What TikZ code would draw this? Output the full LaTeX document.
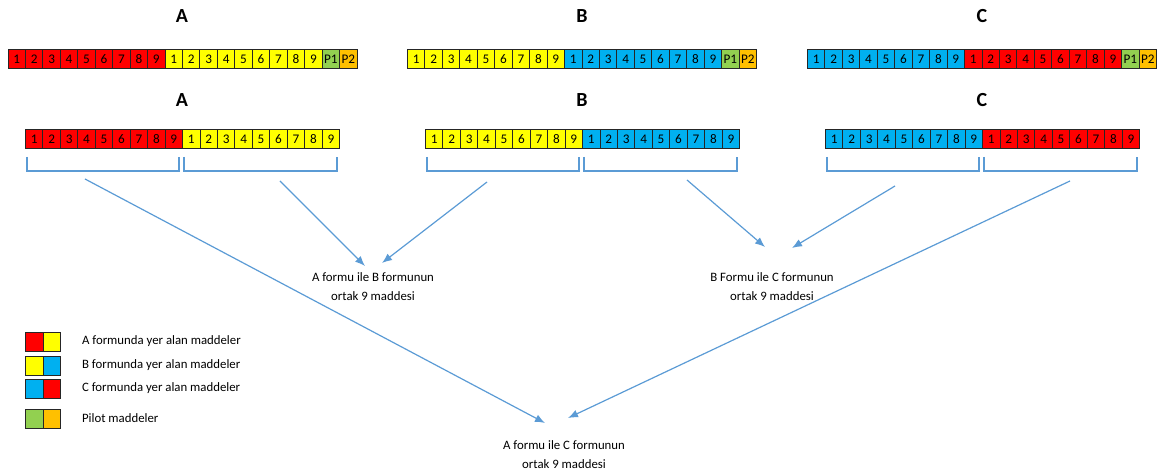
\documentclass[tikz,border=0pt]{standalone}
\usepackage{fontspec}
\setmainfont{Carlito}
\usetikzlibrary{arrows.meta}

\definecolor{kirmizi}{HTML}{FF0000}
\definecolor{sari}{HTML}{FFFF00}
\definecolor{mavi}{HTML}{00B0F0}
\definecolor{yesil}{HTML}{92D050}
\definecolor{turuncu}{HTML}{FFC000}
\definecolor{cizgi}{HTML}{5B9BD5}

\begin{document}
\begin{tikzpicture}
        [x=0.5pt,y=-0.5pt,
         cell/.style={draw=black!85,line width=0.5pt,anchor=north west,inner sep=0pt,
                      minimum width=8.725pt,minimum height=9.5pt,font=\fontsize{6.6}{7}\selectfont},
         baslik/.style={font=\fontsize{10}{12}\selectfont\bfseries},
         etiket/.style={align=center,font=\fontsize{6.4}{9.5}\selectfont},
         aciklama/.style={anchor=west,font=\fontsize{6.4}{8}\selectfont},
         kose/.style={cizgi,line width=0.6pt},
         ok/.style={cizgi,line width=0.6pt,-{Latex[length=5pt,width=4pt]}}]
        \useasboundingbox (0,0) rectangle (1158,474);

        % titles
        \node[baslik] (tA) at (182,16) {A};
        \node[baslik] (tB) at (582,16) {B};
        \node[baslik] (tC) at (982,16) {C};
        \node[baslik] (bA) at (182,100) {A};
        \node[baslik] (bB) at (582,100) {B};
        \node[baslik] (bC) at (982,100) {C};

        % full forms with pilot items
        \foreach \f/\x/\ca/\cb in {A/7.5/kirmizi/sari, B/407/sari/mavi, C/807/mavi/kirmizi} {
          \foreach \i in {1,...,9} {
            \node[cell,fill=\ca] (u\f-l\i) at ({\x+(\i-1)*17.45},49) {\i};
            \node[cell,fill=\cb] (u\f-r\i) at ({\x+(\i+8)*17.45},49) {\i};
          }
          \node[cell,fill=yesil] (u\f-p1) at ({\x+18*17.45},49) {P1};
          \node[cell,fill=turuncu] (u\f-p2) at ({\x+19*17.45},49) {P2};
        }

        % forms without pilot items
        \foreach \f/\x/\ca/\cb in {A/25/kirmizi/sari, B/425/sari/mavi, C/825/mavi/kirmizi} {
          \foreach \i in {1,...,9} {
            \node[cell,fill=\ca] (a\f-l\i) at ({\x+(\i-1)*17.45},129) {\i};
            \node[cell,fill=\cb] (a\f-r\i) at ({\x+(\i+8)*17.45},129) {\i};
          }
        }

        % brackets under the halves
        \foreach \d in {0,400,800} {
          \draw[kose] (27+\d,157) |- (179+\d,171) -- (179+\d,157);
          \draw[kose] (184+\d,157) |- (337+\d,171) -- (337+\d,157);
        }

        % common items
        \node[etiket] (ortakAB) at (373,287) {A formu ile B formunun\\ortak 9 maddesi};
        \node[etiket] (ortakBC) at (772,287) {B Formu ile C formunun\\ortak 9 maddesi};
        \node[etiket] (ortakAC) at (564,455) {A formu ile C formunun\\ortak 9 maddesi};

        \coordinate (s1) at (85,179);
        \coordinate (s2) at (280,181);
        \coordinate (s3) at (487,182);
        \coordinate (s4) at (687,180);
        \coordinate (s5) at (895,186);
        \coordinate (s6) at (1070,181);
        \coordinate (e1) at (545,423);
        \coordinate (e2) at (365,266);
        \coordinate (e3) at (382,263);
        \coordinate (e4) at (765,247);
        \coordinate (e5) at (792,248);
        \coordinate (e6) at (568,418);

        \draw[ok] (s1) -- (e1);
        \draw[ok] (s2) -- (e2);
        \draw[ok] (s3) -- (e3);
        \draw[ok] (s4) -- (e4);
        \draw[ok] (s5) -- (e5);
        \draw[ok] (s6) -- (e6);

        % legend
        \node[cell,minimum width=8.75pt,fill=kirmizi] (g1a) at (25,332) {};
        \node[cell,minimum width=8.75pt,fill=sari] (g1b) at (42.5,332) {};
        \node[cell,minimum width=8.75pt,fill=sari] (g2a) at (25,356) {};
        \node[cell,minimum width=8.75pt,fill=mavi] (g2b) at (42.5,356) {};
        \node[cell,minimum width=8.75pt,fill=mavi] (g3a) at (25,379) {};
        \node[cell,minimum width=8.75pt,fill=kirmizi] (g3b) at (42.5,379) {};
        \node[cell,minimum width=8.75pt,fill=yesil] (g4a) at (25,409) {};
        \node[cell,minimum width=8.75pt,fill=turuncu] (g4b) at (42.5,409) {};
        \node[aciklama] (y1) at (75,341) {A formunda yer alan maddeler};
        \node[aciklama] (y2) at (75,365) {B formunda yer alan maddeler};
        \node[aciklama] (y3) at (75,388) {C formunda yer alan maddeler};
        \node[aciklama] (y4) at (75,418) {Pilot maddeler};
\end{tikzpicture}
\end{document}
